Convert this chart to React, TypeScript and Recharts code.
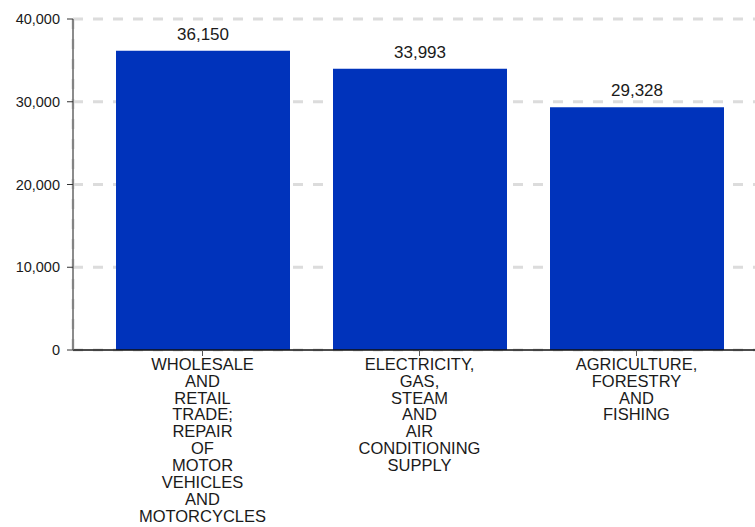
import React from "react";
import { BarChart, Bar, XAxis, YAxis, CartesianGrid, LabelList } from "recharts";

const categories = [
  "WHOLESALE AND RETAIL TRADE; REPAIR OF MOTOR VEHICLES AND MOTORCYCLES",
  "ELECTRICITY, GAS, STEAM AND AIR CONDITIONING SUPPLY",
  "AGRICULTURE, FORESTRY AND FISHING",
];
const values = [36150, 33993, 29328];
const yTicks = [0, 10000, 20000, 30000, 40000];

const data = categories.map((name, i) => ({ name, value: values[i] }));

const FONT = "'Liberation Sans', Arial, Helvetica, sans-serif";
const fmt = (v: number) => v.toLocaleString("en-US");

const XTick = (props: any) => {
  const { x, y, payload } = props;
  const words = String(payload.value).split(" ");
  return (
    <text
      x={x}
      y={y}
      textAnchor="middle"
      fill="#1a1a1a"
      fontSize={16.5}
      fontFamily={FONT}
    >
      {words.map((w, i) => (
        <tspan key={i} x={x} dy={i === 0 ? "0.71em" : 16.9}>
          {w}
        </tspan>
      ))}
    </text>
  );
};

export default function App() {
  return (
    <div style={{ position: "absolute", left: 0, top: 0 }}>
      <BarChart
        width={755}
        height={527}
        data={data}
        margin={{ top: 19, right: 0, left: 0, bottom: 0 }}
        style={{ fontFamily: FONT }}
      >
        <CartesianGrid
          stroke="#dcdcdc"
          strokeWidth={3}
          strokeDasharray="10 10"
          verticalCoordinatesGenerator={({ offset }: any) => [offset.left]}
        />
        <XAxis
          dataKey="name"
          interval={0}
          height={177}
          padding={{ left: 21, right: 10 }}
          axisLine={{ stroke: "#111", strokeWidth: 1.5 }}
          tickLine={{ stroke: "#555" }}
          tickSize={6}
          tickMargin={2}
          tick={<XTick />}
        />
        <YAxis
          width={73}
          domain={[0, 40000]}
          ticks={yTicks}
          tickFormatter={fmt}
          axisLine={{ stroke: "#666", strokeWidth: 1.5 }}
          tickLine={{ stroke: "#333" }}
          tickSize={6}
          tickMargin={7}
          tick={{ fill: "#1a1a1a", fontSize: 14.5, fontFamily: FONT }}
        />
        <Bar dataKey="value" fill="#0033bb" barSize={174} isAnimationActive={false}>
          <LabelList
            dataKey="value"
            position="top"
            offset={11}
            formatter={(v: any) => fmt(Number(v))}
            fill="#1a1a1a"
            fontSize={17}
            fontFamily={FONT}
          />
        </Bar>
      </BarChart>
    </div>
  );
}
